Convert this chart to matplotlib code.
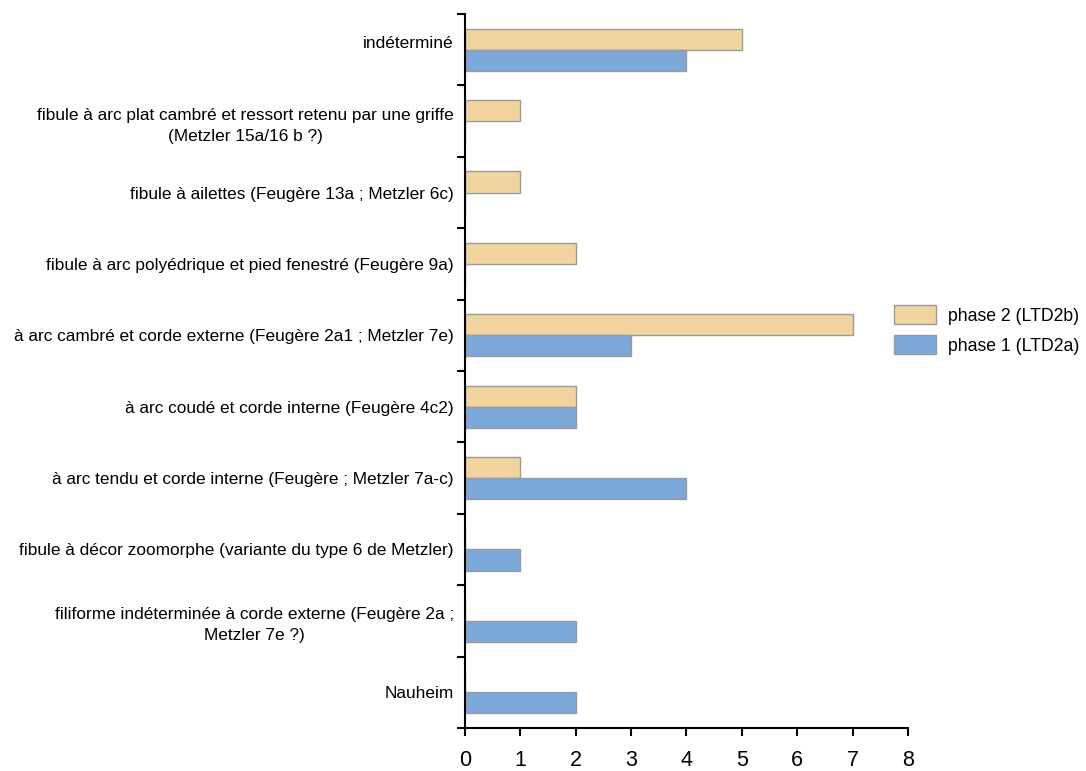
import matplotlib.pyplot as plt
import numpy as np

plt.rcParams['font.family'] = ['Liberation Sans', 'DejaVu Sans']

categories = [
    "Nauheim",
    "filiforme indéterminée à corde externe (Feugère 2a ;\nMetzler 7e ?)",
    "fibule à décor zoomorphe (variante du type 6 de Metzler)",
    "à arc tendu et corde interne (Feugère ; Metzler 7a-c)",
    "à arc coudé et corde interne (Feugère 4c2)",
    "à arc cambré et corde externe (Feugère 2a1 ; Metzler 7e)",
    "fibule à arc polyédrique et pied fenestré (Feugère 9a)",
    "fibule à ailettes (Feugère 13a ; Metzler 6c)",
    "fibule à arc plat cambré et ressort retenu par une griffe\n(Metzler 15a/16 b ?)",
    "indéterminé\n",
]
phase2 = [0, 0, 0, 1, 2, 7, 2, 1, 1, 5]
phase1 = [2, 2, 1, 4, 2, 3, 0, 0, 0, 4]

col2 = '#F2D59E'
col1 = '#7BA7D9'
edge = '#9A9A9A'

fig = plt.figure(figsize=(10.86, 7.71), dpi=100)
ax = fig.add_axes([0.428, 0.0558, 0.408, 0.926])

y = np.arange(len(categories))
h = 0.295
ax.barh(y + h / 2, phase2, height=h, color=col2, edgecolor=edge, linewidth=1, label='phase 2 (LTD2b)')
ax.barh(y - h / 2, phase1, height=h, color=col1, edgecolor=edge, linewidth=1, label='phase 1 (LTD2a)')

ax.set_xlim(0, 8)
ax.set_ylim(-0.5, len(categories) - 0.5)
ax.set_xticks(range(9))
ax.tick_params(axis='x', labelsize=15.5, length=6, width=1.5, direction='out', pad=10)

# boundaries as major ticks, labels on minor ticks
ax.set_yticks(np.arange(-0.5, len(categories), 1.0))
ax.set_yticklabels([])
ax.tick_params(axis='y', which='major', length=6, width=1.5, direction='out')
ax.set_yticks(y, minor=True)
ax.set_yticklabels(categories, minor=True, fontsize=12.4, multialignment='center',
                   linespacing=1.5)
ax.tick_params(axis='y', which='minor', length=0, pad=8)

for s in ['top', 'right']:
    ax.spines[s].set_visible(False)
for s in ['left', 'bottom']:
    ax.spines[s].set_linewidth(1.5)

fig.legend(loc='center left', bbox_to_anchor=(0.809, 0.572), frameon=False,
           fontsize=12.7, handlelength=2.35, handleheight=1.25, handletextpad=0.7,
           labelspacing=0.6)

plt.savefig('out.png', dpi=100)
